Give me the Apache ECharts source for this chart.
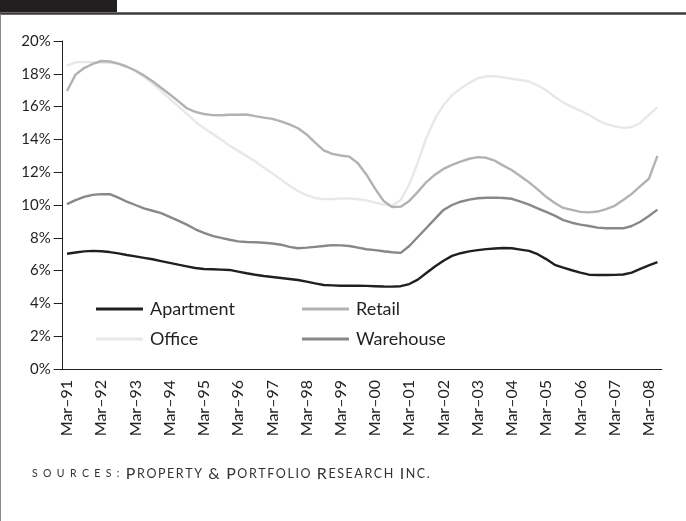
<!DOCTYPE html>
<html>
<head>
<meta charset="utf-8">
<title>Cap rates by property type</title>
<script src="https://cdn.jsdelivr.net/npm/echarts@6/dist/echarts.min.js"></script>
<style>
    html, body { margin: 0; padding: 0; background: #fff; }
    #chart { width: 686px; height: 521px; }
</style>
</head>
<body>
<div id="chart"></div>
<script>
// quarterly categories, Mar-91 .. Jun-08
var years = ['91', '92', '93', '94', '95', '96', '97', '98', '99',
             '00', '01', '02', '03', '04', '05', '06', '07', '08'];
var quarterMonths = ['Mar', 'Jun', 'Sep', 'Dec'];
var lastQuarterCount = 2; // 2008 stops at Jun

var seriesNames = ['Apartment', 'Retail', 'Office', 'Warehouse'];

// values in %, one per quarter
var apartment = [
    7.03, 7.10, 7.17, 7.20, 7.18, 7.13, 7.05, 6.95, 6.87, 6.78,
    6.69, 6.58, 6.47, 6.36, 6.26, 6.16, 6.10, 6.08, 6.06, 6.04,
    5.94, 5.84, 5.75, 5.67, 5.61, 5.55, 5.49, 5.43, 5.33, 5.22,
    5.12, 5.10, 5.08, 5.08, 5.08, 5.07, 5.05, 5.03, 5.02, 5.05,
    5.18, 5.45, 5.85, 6.25, 6.60, 6.90, 7.06, 7.17, 7.25, 7.31,
    7.35, 7.38, 7.36, 7.28, 7.20, 7.00, 6.70, 6.35, 6.18, 6.02,
    5.88, 5.75, 5.73, 5.73, 5.74, 5.76, 5.88, 6.10, 6.32, 6.52
];
var retail = [
    16.95, 17.95, 18.35, 18.60, 18.78, 18.75, 18.62, 18.43, 18.20, 17.90,
    17.55, 17.15, 16.75, 16.33, 15.90, 15.68, 15.55, 15.48, 15.47, 15.50,
    15.50, 15.52, 15.42, 15.33, 15.25, 15.10, 14.92, 14.68, 14.30, 13.80,
    13.33, 13.12, 13.02, 12.95, 12.55, 11.85, 11.00, 10.25, 9.88, 9.90,
    10.25, 10.80, 11.40, 11.85, 12.20, 12.45, 12.65, 12.82, 12.92, 12.88,
    12.70, 12.40, 12.12, 11.75, 11.38, 10.95, 10.50, 10.12, 9.82, 9.70,
    9.58, 9.55, 9.60, 9.75, 9.95, 10.30, 10.68, 11.15, 11.60, 13.00
];
var office = [
    18.50, 18.70, 18.73, 18.70, 18.68, 18.67, 18.62, 18.45, 18.15, 17.82,
    17.40, 16.95, 16.48, 16.02, 15.55, 15.08, 14.70, 14.35, 14.00, 13.62,
    13.30, 12.98, 12.65, 12.28, 11.93, 11.55, 11.18, 10.85, 10.60, 10.43,
    10.36, 10.37, 10.40, 10.40, 10.35, 10.28, 10.15, 10.02, 9.95, 10.30,
    11.25, 12.60, 14.10, 15.25, 16.10, 16.70, 17.10, 17.45, 17.72, 17.85,
    17.85, 17.78, 17.70, 17.62, 17.53, 17.30, 17.00, 16.60, 16.25, 15.98,
    15.75, 15.50, 15.18, 14.93, 14.80, 14.70, 14.75, 15.00, 15.50, 15.95
];
var warehouse = [
    10.05, 10.30, 10.50, 10.62, 10.66, 10.66, 10.45, 10.20, 10.00, 9.80,
    9.65, 9.50, 9.28, 9.05, 8.80, 8.52, 8.30, 8.12, 8.00, 7.88,
    7.78, 7.74, 7.73, 7.70, 7.65, 7.58, 7.45, 7.36, 7.40, 7.45,
    7.50, 7.55, 7.54, 7.50, 7.40, 7.30, 7.25, 7.18, 7.12, 7.08,
    7.50, 8.05, 8.60, 9.15, 9.70, 10.00, 10.20, 10.33, 10.41, 10.44,
    10.45, 10.43, 10.38, 10.20, 10.02, 9.80, 9.58, 9.35, 9.08, 8.92,
    8.80, 8.72, 8.62, 8.58, 8.58, 8.58, 8.72, 8.98, 9.33, 9.72
];

var yMin = 0, yMax = 20, yStep = 2;

// source line, small caps words: [first letter, rest]
var sourceLead = 'SOURCES:';
var sourceWords = [['P', 'ROPERTY'], ['&', ''], ['P', 'ORTFOLIO'], ['R', 'ESEARCH'], ['I', 'NC.']];

(function () {
    var chart = echarts.init(document.getElementById('chart'), null, { renderer: 'canvas' }),
        ink = '#231f20',
        font = 'Lato, "Open Sans", sans-serif',
        colors = {
            Apartment: '#231f20',
            Retail: '#b2b2b2',
            Office: '#e8e8e8',
            Warehouse: '#87888a'
        },
        values = {
            Apartment: apartment,
            Retail: retail,
            Office: office,
            Warehouse: warehouse
        },
        categories = [];

    years.forEach(function (yr, i) {
        var n = i === years.length - 1 ? lastQuarterCount : quarterMonths.length;
        for (var q = 0; q < n; q++) {
            categories.push(quarterMonths[q] + '\u2013' + yr);
        }
    });

    // fake letter tracking with thin spaces
    var track = function (s, gap) {
        return s.split('').join(gap);
    };
    var sourceText = '{lead|' + track(sourceLead, '\u00a0\u00a0') + '}{sm|\u00a0\u00a0}' + sourceWords.map(function (w) {
        return '{big|' + w[0] + '}' + (w[1] ? '{sm|\u2009' + track(w[1], '\u2009') + '}' : '');
    }).join('{sm|\u00a0\u00a0}');

    // one legend block per entry so they sit in the two columns of the original
    var legendSpots = {
        Apartment: { left: 96, top: 300 },
        Retail: { left: 302, top: 300 },
        Office: { left: 96, top: 330 },
        Warehouse: { left: 302, top: 330 }
    };
    var legends = seriesNames.map(function (name) {
        return {
            data: [name],
            left: legendSpots[name].left,
            top: legendSpots[name].top,
            padding: 0,
            icon: 'rect',
            itemWidth: 47,
            itemHeight: 3,
            itemGap: 0,
            selectedMode: false,
            textStyle: { color: ink, fontSize: 18, fontFamily: font, padding: [0, 0, 0, 2] }
        };
    });

    var series = seriesNames.map(function (name, idx) {
        return {
            name: name,
            type: 'line',
            data: values[name],
            symbol: 'none',
            z: 10 - idx,
            lineStyle: { color: colors[name], width: 2.4 },
            itemStyle: { color: colors[name] }
        };
    });
    // office drawn first (lightest), apartment on top
    series.sort(function (a, b) { return b.z - a.z; });

    var option = {
        animation: false,
        backgroundColor: '#fff',
        grid: { left: 62.7, right: 24.3, top: 41, bottom: 152, containLabel: false },
        legend: legends,
        xAxis: {
            type: 'category',
            data: categories,
            boundaryGap: true,
            axisLine: { lineStyle: { color: ink, width: 1 } },
            axisTick: { interval: 3, inside: false, length: 7, lineStyle: { color: ink } },
            axisLabel: {
                interval: 3,
                rotate: 90,
                margin: 11,
                color: ink,
                fontSize: 16,
                fontFamily: font,
                padding: [0, 0, 6, 0]
            },
            splitLine: { show: false }
        },
        yAxis: {
            type: 'value',
            min: yMin,
            max: yMax,
            interval: yStep,
            axisLine: { show: true, lineStyle: { color: ink, width: 1 } },
            axisTick: { show: true, inside: false, length: 9, lineStyle: { color: ink } },
            axisLabel: {
                formatter: '{value}%',
                margin: 12,
                color: ink,
                fontSize: 15,
                fontFamily: font
            },
            splitLine: { show: false }
        },
        series: series,
        graphic: [
            // header bar + rule, left border
            { type: 'rect', left: 0, top: 0, shape: { width: 117, height: 12 }, style: { fill: '#231f20' } },
            { type: 'line', shape: { x1: 0, y1: 13.5, x2: 686, y2: 13.5 }, style: { stroke: '#3a3a3a', lineWidth: 2.5 } },
            { type: 'line', shape: { x1: 0.5, y1: 14, x2: 0.5, y2: 521 }, style: { stroke: '#8a8a8a', lineWidth: 1 } },
            {
                type: 'text',
                left: 32,
                top: 466,
                style: {
                    text: sourceText,
                    fill: '#333',
                    rich: {
                        lead: { fontSize: 10.5, fontFamily: font, fill: '#333' },
                        sm: { fontSize: 12.5, fontFamily: font, fill: '#333' },
                        big: { fontSize: 16, fontFamily: font, fill: '#333' }
                    }
                }
            }
        ]
    };

    chart.setOption(option);
})();
</script>
</body>
</html>
